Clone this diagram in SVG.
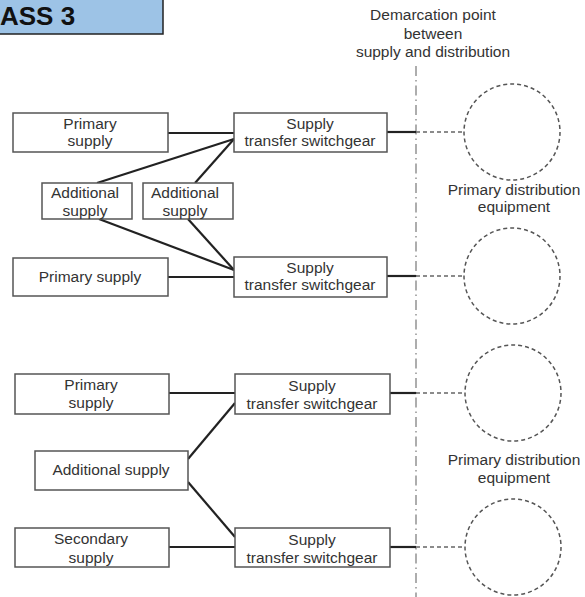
<svg xmlns="http://www.w3.org/2000/svg" width="585" height="597" viewBox="0 0 585 597">
<style>
.box{fill:#fff;stroke:#555;stroke-width:1.5}
.t{font-family:"Liberation Sans",Arial,sans-serif;font-size:15.5px;fill:#333;text-anchor:middle}
.c{stroke:#222;stroke-width:2.2;fill:none}
.d{stroke:#666;stroke-width:1.5;stroke-dasharray:4 3;fill:none}
.circ{fill:#fff;stroke:#555;stroke-width:1.5;stroke-dasharray:4 3}
.dm{stroke:#777;stroke-width:1.2;stroke-dasharray:10 4 1.5 4;fill:none}
</style>
<rect width="585" height="597" fill="#fff"/>
<g id="title">
<rect x="-2" y="-2" width="165" height="36" fill="#9dc3e6" stroke="#222" stroke-width="1.5"/>
<text x="0" y="25" style="font-family:'Liberation Sans',Arial,sans-serif;font-size:26px;font-weight:bold;fill:#111">ASS 3</text>
</g>
<g id="demarcation">
<text class="t" x="433" y="20">Demarcation point</text>
<text class="t" x="433" y="38.5">between</text>
<text class="t" x="433" y="57">supply and distribution</text>
<line class="dm" x1="416" y1="66" x2="416" y2="597"/>
</g>
<g id="connectors">
<line class="c" x1="168" y1="133" x2="234" y2="133"/>
<line class="c" x1="97" y1="183" x2="234" y2="139"/>
<line class="c" x1="195" y1="183" x2="234" y2="139"/>
<line class="c" x1="99" y1="219" x2="234" y2="270"/>
<line class="c" x1="188" y1="219" x2="234" y2="270"/>
<line class="c" x1="168" y1="277" x2="234" y2="277"/>
<line class="c" x1="387" y1="132" x2="416" y2="132"/>
<line class="c" x1="387" y1="276" x2="416" y2="276"/>
<line class="d" x1="416" y1="132" x2="464" y2="132"/>
<line class="d" x1="416" y1="276" x2="464" y2="276"/>
<line class="c" x1="169" y1="393" x2="235" y2="393"/>
<line class="c" x1="188" y1="459" x2="235" y2="403"/>
<line class="c" x1="188" y1="482" x2="235" y2="537"/>
<line class="c" x1="169" y1="547" x2="235" y2="547"/>
<line class="c" x1="390" y1="393" x2="416" y2="393"/>
<line class="c" x1="390" y1="547" x2="416" y2="547"/>
<line class="d" x1="416" y1="393" x2="465" y2="393"/>
<line class="d" x1="416" y1="547" x2="465" y2="547"/>
</g>
<g id="primary1">
<rect class="box" x="13" y="113" width="155" height="39"/>
<text class="t" x="90" y="129">Primary</text>
<text class="t" x="90" y="146">supply</text>
</g>
<g id="switch1">
<rect class="box" x="234" y="113" width="153" height="39"/>
<text class="t" x="310" y="129">Supply</text>
<text class="t" x="310" y="146">transfer switchgear</text>
</g>
<g id="additional1">
<rect class="box" x="42" y="183" width="90" height="36"/>
<text class="t" x="85" y="198">Additional</text>
<text class="t" x="85" y="216">supply</text>
</g>
<g id="additional2">
<rect class="box" x="143" y="183" width="90" height="36"/>
<text class="t" x="185" y="198">Additional</text>
<text class="t" x="185" y="216">supply</text>
</g>
<g id="primary2">
<rect class="box" x="13" y="258" width="155" height="38"/>
<text class="t" x="90" y="282">Primary supply</text>
</g>
<g id="switch2">
<rect class="box" x="234" y="257" width="153" height="40"/>
<text class="t" x="310" y="273">Supply</text>
<text class="t" x="310" y="290">transfer switchgear</text>
</g>
<g id="dist1">
<circle class="circ" cx="512" cy="132" r="48"/>
<circle class="circ" cx="512" cy="276" r="48"/>
<text class="t" x="514" y="195">Primary distribution</text>
<text class="t" x="514" y="212">equipment</text>
</g>
<g id="primary3">
<rect class="box" x="15" y="374" width="154" height="40"/>
<text class="t" x="91" y="390">Primary</text>
<text class="t" x="91" y="408">supply</text>
</g>
<g id="switch3">
<rect class="box" x="235" y="374" width="155" height="40"/>
<text class="t" x="312" y="391">Supply</text>
<text class="t" x="312" y="409">transfer switchgear</text>
</g>
<g id="additional3">
<rect class="box" x="35" y="451" width="153" height="39"/>
<text class="t" x="111" y="475">Additional supply</text>
</g>
<g id="secondary">
<rect class="box" x="15" y="528" width="154" height="39"/>
<text class="t" x="91" y="544">Secondary</text>
<text class="t" x="91" y="563">supply</text>
</g>
<g id="switch4">
<rect class="box" x="235" y="528" width="155" height="39"/>
<text class="t" x="312" y="545">Supply</text>
<text class="t" x="312" y="563">transfer switchgear</text>
</g>
<g id="dist2">
<circle class="circ" cx="513" cy="393" r="48"/>
<circle class="circ" cx="513" cy="547" r="48"/>
<text class="t" x="514" y="465">Primary distribution</text>
<text class="t" x="514" y="483">equipment</text>
</g>
</svg>
